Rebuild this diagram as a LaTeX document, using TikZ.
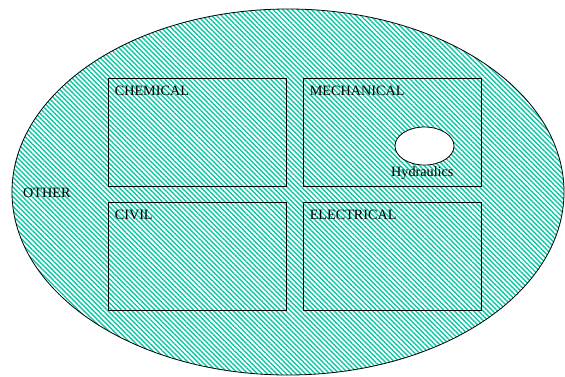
\documentclass[tikz,border=0pt]{standalone}
\usepackage{fontspec}
\setmainfont{Liberation Serif}
\usetikzlibrary{shapes.geometric,patterns.meta,positioning}
\definecolor{hatchteal}{RGB}{10,200,165}

\begin{document}
\begin{tikzpicture}[x=1pt, y=-1pt,
  field/.style={draw, line width=0.8pt, minimum width=178pt, minimum height=108pt, inner sep=0pt},
  tag/.style={font=\fontsize{14.2}{17}\selectfont, inner sep=0pt}]
  \useasboundingbox (0,0) rectangle (565,376);
  % outer region
  \draw[line width=0.8pt, pattern={Lines[angle=-45,distance=3.4pt,line width=1.4pt]}, pattern color=hatchteal]
    (288,192) ellipse [x radius=276pt, y radius=183pt];
  \node[tag, anchor=base west] (other) at (23,197) {OTHER};
  % the four fields
  \node[field] (chem) at (197,132) {};
  \node[field] (mech) at (392,132) {};
  \node[field] (civil) at (197,256) {};
  \node[field] (elec) at (392,256) {};
  \node[tag, anchor=north west, below right=8pt and 7pt of chem.north west] {CHEMICAL};
  \node[tag, anchor=north west, below right=8pt and 7pt of mech.north west] {MECHANICAL};
  \node[tag, anchor=north west, below right=8pt and 7pt of civil.north west] {CIVIL};
  \node[tag, anchor=north west, below right=8pt and 7pt of elec.north west] {ELECTRICAL};
  % sub field
  \node[ellipse, draw, fill=white, line width=0.8pt, minimum width=59pt, minimum height=38pt] (hyd) at (424.5,146) {};
  \node[tag, anchor=base west] (hydlabel) at (391,176) {Hydraulics};
\end{tikzpicture}
\end{document}
